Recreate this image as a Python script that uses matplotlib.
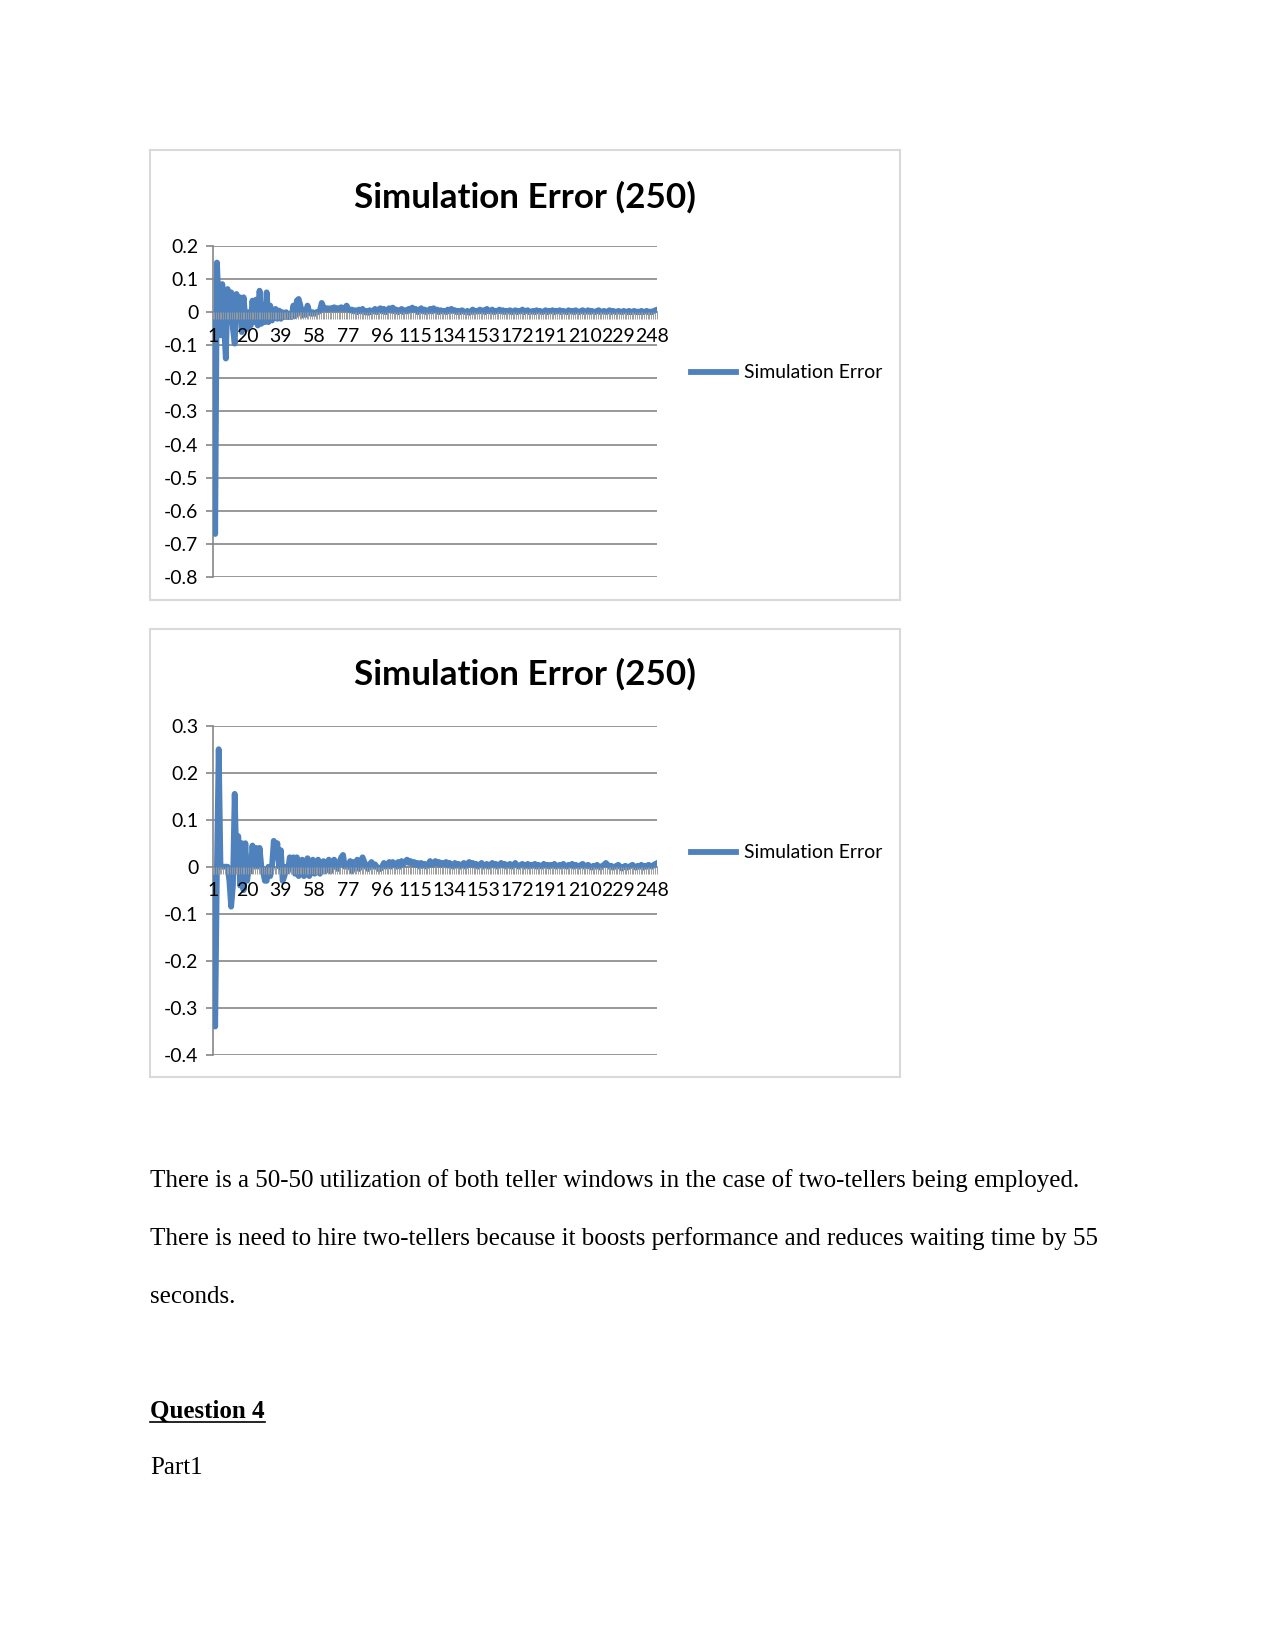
import matplotlib
matplotlib.use('Agg')
import matplotlib.pyplot as plt
from matplotlib.patches import Rectangle
from matplotlib.lines import Line2D
import numpy as np

# data (250 runs each)
err_a = [
    -0.02, -0.67, 0.15, 0.02, -0.07, 0.085, -0.04, -0.14, 0.07, -0.03,
    0.06, -0.05, -0.095, 0.055, -0.02, 0.045, -0.06, 0.045, -0.02, -0.05,
    0.0, -0.04, 0.035, -0.03, 0.038, -0.04, 0.065, -0.035, 0.01, -0.03,
    0.06, -0.03, 0.02, -0.025, -0.01, 0.01, -0.02, 0.005, -0.02, 0.0,
    -0.015, 0.0, -0.015, -0.005, -0.015, 0.02, -0.012, 0.035, 0.04, 0.02,
    -0.01, 0.005, -0.008, 0.02, 0.0, -0.005, 0.0, -0.005, 0.0, 0.0,
    0.005, 0.028, 0.015, 0.01, 0.012, 0.01, 0.012, 0.01, 0.015, 0.01,
    0.012, 0.01, 0.015, 0.012, 0.01, 0.02, 0.01, 0.005, 0.008, 0.002,
    0.006, 0.0, 0.008, 0.002, 0.01, 0.0, 0.004, -0.002, 0.006, 0.0,
    0.004, 0.01, 0.0, 0.008, 0.012, 0.002, 0.01, 0.0, 0.006, 0.012,
    0.004, 0.014, 0.002, 0.008, 0.0, 0.006, 0.01, 0.0, 0.006, 0.002,
    0.01, 0.004, 0.014, 0.006, 0.01, 0.0, 0.006, 0.012, 0.002, 0.008,
    0.0, 0.004, 0.01, 0.002, 0.012, 0.004, 0.008, 0.0, 0.006, 0.002,
    0.004, 0.0, 0.008, 0.002, 0.01, 0.004, 0.006, 0.0, 0.004, 0.0,
    0.006, 0.002, 0.0, 0.004, -0.002, 0.002, 0.008, 0.0, 0.004, 0.002,
    0.008, 0.002, 0.006, 0.0, 0.01, 0.004, 0.002, 0.008, 0.0, 0.004,
    0.002, 0.008, 0.002, 0.006, 0.0, 0.004, 0.002, 0.006, 0.0, 0.002,
    0.006, 0.0, 0.004, 0.002, 0.008, 0.0, 0.004, 0.006, 0.0, 0.002,
    0.004, 0.0, 0.006, 0.002, 0.004, 0.0, 0.002, 0.006, 0.0, 0.004,
    0.002, 0.006, 0.0, 0.004, 0.002, 0.006, 0.0, 0.004, 0.002, 0.0,
    0.006, 0.002, 0.004, 0.0, 0.006, 0.002, 0.0, 0.004, 0.006, 0.0,
    0.002, 0.006, 0.0, 0.004, 0.002, 0.0, 0.004, 0.006, 0.0, 0.002,
    0.004, 0.0, 0.002, 0.006, 0.0, 0.004, 0.002, 0.0, 0.004, 0.002,
    0.0, 0.004, 0.002, 0.0, 0.004, 0.0, 0.002, 0.004, 0.0, 0.002,
    0.0, 0.004, 0.0, 0.002, 0.004, 0.0, 0.002, 0.0, 0.004, 0.006,
]
err_b = [
    -0.02, -0.34, 0.0, 0.25, 0.0, 0.0, 0.0, 0.0, 0.0, -0.03,
    -0.085, -0.04, 0.155, 0.0, 0.065, -0.04, 0.05, -0.05, 0.05, -0.03,
    0.0, -0.01, 0.045, 0.0, 0.04, 0.0, 0.04, 0.0, -0.01, -0.03,
    -0.03, 0.0, -0.02, 0.0, 0.055, 0.02, 0.05, 0.0, 0.035, -0.03,
    -0.02, 0.0, -0.01, 0.02, 0.0, 0.02, -0.015, 0.02, -0.02, 0.0,
    0.015, -0.02, -0.015, 0.018, -0.02, 0.0, 0.015, -0.015, 0.0, 0.015,
    -0.015, 0.0, 0.012, -0.01, 0.0, 0.015, -0.01, 0.005, 0.015, 0.0,
    -0.005, 0.01, 0.02, 0.025, 0.0, 0.005, 0.0, 0.012, -0.01, 0.01,
    0.0, 0.015, -0.005, 0.01, 0.02, 0.01, 0.0, -0.005, 0.005, 0.01,
    0.0, 0.005, 0.0, -0.005, -0.005, 0.0, 0.008, 0.0, 0.002, 0.01,
    0.0, 0.01, 0.005, 0.0, 0.01, 0.0, 0.012, 0.005, 0.01, 0.015,
    0.008, 0.012, 0.006, 0.01, 0.004, 0.008, 0.0, 0.008, 0.002, 0.006,
    0.0, 0.004, 0.012, 0.004, 0.008, 0.012, 0.006, 0.01, 0.004, 0.008,
    0.006, 0.01, 0.002, 0.008, 0.004, 0.0, 0.008, 0.002, 0.006, 0.0,
    0.004, 0.008, 0.0, 0.006, 0.01, 0.004, 0.008, 0.002, 0.006, 0.0,
    0.004, 0.008, 0.0, 0.004, 0.006, 0.0, 0.004, 0.008, 0.002, 0.006,
    0.0, 0.004, 0.008, 0.002, 0.006, 0.0, 0.004, 0.006, 0.0, 0.004,
    0.008, 0.002, 0.0, 0.004, 0.006, 0.0, 0.002, 0.006, 0.0, 0.004,
    0.002, 0.006, 0.0, 0.004, 0.002, 0.0, 0.006, 0.002, 0.004, 0.0,
    0.004, 0.002, 0.006, 0.0, 0.002, 0.004, 0.0, 0.006, 0.002, 0.0,
    0.004, 0.002, 0.006, 0.0, 0.004, 0.002, 0.0, 0.004, 0.006, 0.0,
    0.002, 0.004, 0.0, -0.002, 0.002, 0.0, 0.004, 0.0, -0.002, 0.002,
    0.004, 0.008, 0.004, 0.0, 0.002, -0.002, 0.0, 0.002, 0.004, 0.0,
    -0.004, 0.0, 0.002, -0.002, 0.0, 0.002, 0.004, 0.0, -0.002, 0.002,
    0.0, 0.004, -0.002, 0.002, 0.0, 0.004, 0.002, 0.0, 0.004, 0.006,
]
ticks_a = [0.2, 0.1, 0.0, -0.1, -0.2, -0.3, -0.4, -0.5, -0.6, -0.7, -0.8]
ticks_b = [0.3, 0.2, 0.1, 0.0, -0.1, -0.2, -0.3, -0.4]
cat_labels = [1, 20, 39, 58, 77, 96, 115, 134, 153, 172, 191, 210, 229, 248]
title = 'Simulation Error (250)'
series_name = 'Simulation Error'
paragraphs = [
    'There is a 50-50 utilization of both teller windows in the case of two-tellers being employed.',
    'There is need to hire two-tellers because it boosts performance and reduces waiting time by 55',
    'seconds.',
]

W, H = 1275, 1650
BLUE = '#4F81BD'
GRID = '#868686'
SANS = 'Lato'
TICK_FS = 9.3

fig = plt.figure(figsize=(8.5, 11), dpi=150)


def fx(px):
    return px / W


def fy(py):
    return 1 - py / H


def fmt(v):
    if v == 0:
        return '0'
    return ('%.1f' % v)


def draw_chart(values, yticks, box_top, box_bot, ax_top, ax_bot, title_y, legend_y):
    fig.patches.append(Rectangle((fx(150), fy(box_bot)), fx(900) - fx(150), fy(box_top) - fy(box_bot),
                                 transform=fig.transFigure, fill=False, edgecolor='#d9d9d9', lw=1.0))
    ax = fig.add_axes([fx(212.5), fy(ax_bot), fx(656.5) - fx(212.5), fy(ax_top) - fy(ax_bot)])
    x = np.arange(1, len(values) + 1)
    ax.plot(x, values, color=BLUE, lw=2.8, solid_joinstyle='round', zorder=3)
    ax.set_xlim(0.5, len(values) + 0.5)
    ax.set_ylim(min(yticks), max(yticks))
    ax.set_yticks(yticks)
    ax.set_yticklabels([fmt(v) for v in yticks], fontname=SANS, fontsize=TICK_FS)
    ax.grid(axis='y', color=GRID, lw=0.8)
    ax.yaxis.set_zorder(0.5)
    ax.xaxis.set_zorder(5)
    for s in ['top', 'right']:
        ax.spines[s].set_visible(False)
    ax.spines['left'].set_color(GRID)
    ax.spines['left'].set_linewidth(0.8)
    ax.spines['left'].set_zorder(1)
    ax.spines['bottom'].set_position(('data', 0))
    ax.spines['bottom'].set_color(GRID)
    ax.spines['bottom'].set_linewidth(0.8)
    ax.spines['bottom'].set_zorder(1)
    ax.set_xticks(cat_labels)
    ax.set_xticklabels([str(c) for c in cat_labels], fontname=SANS, fontsize=TICK_FS)
    ax.set_xticks(np.arange(0.5, len(values) + 1, 1), minor=True)
    ax.tick_params(axis='x', which='major', length=0, pad=7.5)
    ax.tick_params(axis='x', which='minor', length=3.4, color='#9a9a9a', width=0.45, direction='out')
    ax.tick_params(axis='y', length=3.4, color=GRID, width=0.8, pad=3.5)
    ax.patch.set_alpha(0)

    fig.text(fx(525), fy(title_y), title, ha='center', va='center',
             fontname=SANS, fontweight='bold', fontsize=16.8)
    fig.add_artist(Line2D([fx(691), fx(736)], [fy(legend_y), fy(legend_y)], color=BLUE, lw=2.8))
    fig.text(fx(744), fy(legend_y), series_name, ha='left', va='center', fontname=SANS, fontsize=TICK_FS)
    return ax


draw_chart(err_a, ticks_a, 150, 600, 246, 577, 197, 372)
draw_chart(err_b, ticks_b, 629, 1077, 725.7, 1054.7, 674, 852)

# text below the charts
for i, line in enumerate(paragraphs):
    fig.text(fx(150), fy(1187 + 58 * i), line, ha='left', va='baseline',
             fontname='Liberation Serif', fontsize=12)

q = fig.text(fx(150), fy(1418), 'Question 4', ha='left', va='baseline',
             fontname='Liberation Serif', fontsize=12, fontweight='bold')
fig.text(fx(150), fy(1474), 'Part1', ha='left', va='baseline',
         fontname='Liberation Serif', fontsize=12)

fig.canvas.draw()
bb = q.get_window_extent()
fig.add_artist(Line2D([bb.x0 / W, bb.x1 / W], [fy(1422), fy(1422)], color='black', lw=0.8))

fig.savefig('out.png', dpi=150)
